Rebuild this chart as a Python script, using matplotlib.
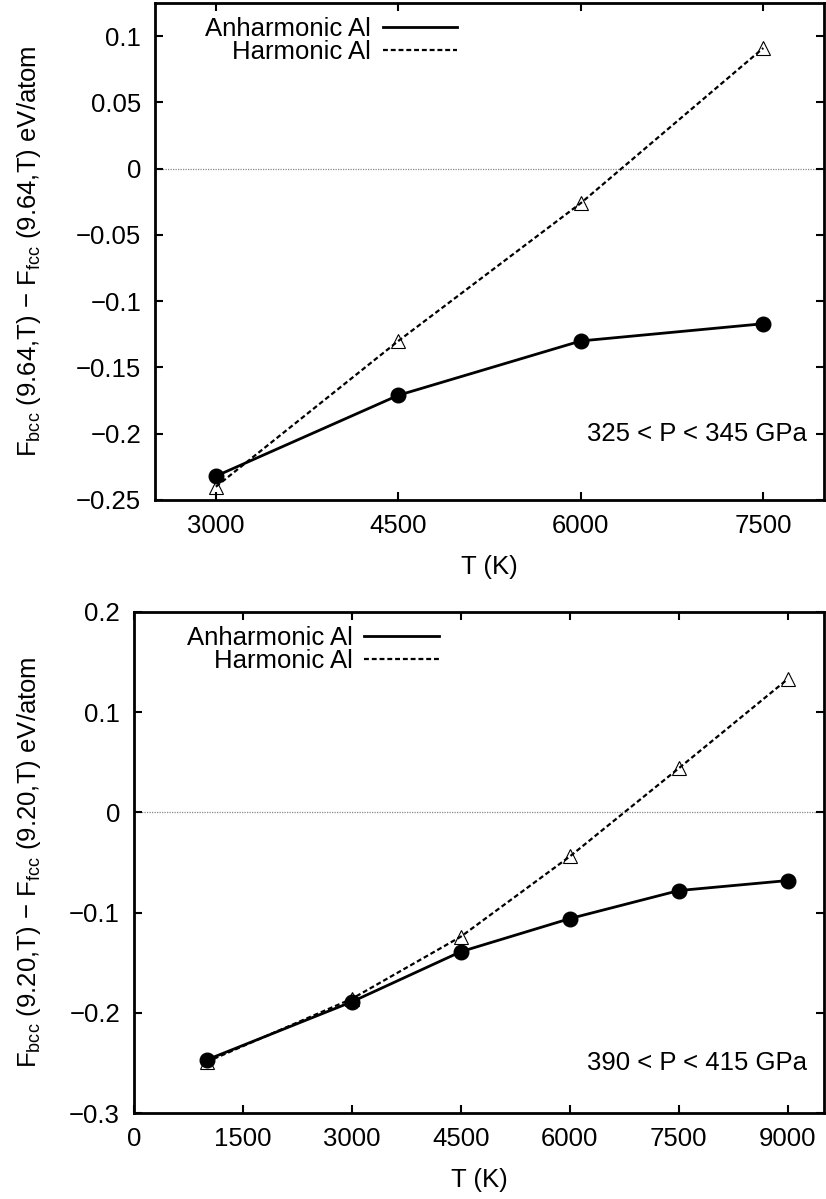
import matplotlib
matplotlib.use("Agg")
import matplotlib.pyplot as plt
from matplotlib.ticker import FuncFormatter
from matplotlib.lines import Line2D

plt.rcParams['font.family'] = ['Liberation Sans', 'DejaVu Sans']
plt.rcParams['mathtext.fontset'] = 'custom'
plt.rcParams['mathtext.rm'] = 'Liberation Sans'
plt.rcParams['mathtext.it'] = 'Liberation Sans'

# ---- data: top panel (V = 9.64) ----
T_top = [3000, 4500, 6000, 7500]
anh_top = [-0.232, -0.171, -0.130, -0.117]
harm_top = [-0.240, -0.130, -0.026, 0.091]
yticks_top = [0.1, 0.05, 0, -0.05, -0.1, -0.15, -0.2, -0.25]
xticks_top = [3000, 4500, 6000, 7500]

# ---- data: bottom panel (V = 9.20) ----
T_bot = [1000, 3000, 4500, 6000, 7500, 9000]
anh_bot = [-0.247, -0.189, -0.139, -0.106, -0.078, -0.068]
harm_bot = [-0.249, -0.186, -0.124, -0.044, 0.044, 0.133]
yticks_bot = [0.2, 0.1, 0, -0.1, -0.2, -0.3]
xticks_bot = [0, 1500, 3000, 4500, 6000, 7500, 9000]

fig = plt.figure(figsize=(8.26, 11.99), dpi=100)
FS = 18.5

def fmt(v, pos):
    s = '%g' % v
    if s == '-0':
        s = '0'
    return s.replace('-', '\u2212')

def panel(ax, T, anh, harm, xlim, ylim, xticks, yticks, vol, ptext, ptext_y,
          leg_x, ylab_x):
    ax.axhline(0, color='#888888', lw=0.9, ls=(0, (1, 1)), zorder=1)
    ax.plot(T, anh, color='black', lw=2.0, marker='o', ms=10.5,
            mfc='black', mec='black', label='Anharmonic Al', zorder=3)
    ax.plot(T, harm, color='black', lw=1.6, ls=(0, (2.2, 1.3)), marker='^', ms=10.5,
            mfc='none', mec='black', mew=0.8, label='Harmonic Al', zorder=2)
    ax.set_xlim(*xlim)
    ax.set_ylim(*ylim)
    ax.set_xticks(xticks)
    ax.set_yticks(yticks)
    ax.yaxis.set_major_formatter(FuncFormatter(fmt))
    ax.tick_params(direction='in', length=6, width=1.5, top=True, right=True,
                   labelsize=FS, pad=10)
    for s in ax.spines.values():
        s.set_linewidth(2.0)
    ax.set_xlabel('T (K)', fontsize=FS, labelpad=12)
    ax.set_ylabel(r'F$_{\rm bcc}$ (%s,T) $-$ F$_{\rm fcc}$ (%s,T) eV/atom' % (vol, vol),
                  fontsize=FS)
    ax.yaxis.set_label_coords(ylab_x, 0.5)
    ax.text(0.975, ptext_y, ptext, transform=ax.transAxes,
            ha='right', va='center', fontsize=FS)
    h1 = Line2D([], [], color='black', lw=2.0)
    h2 = Line2D([], [], color='black', lw=1.6, ls=(0, (2.2, 1.3)))
    ax.legend([h1, h2], ['Anharmonic Al', 'Harmonic Al'], loc='upper right',
              bbox_to_anchor=(leg_x, 1.0), frameon=False, markerfirst=False,
              fontsize=FS, handlelength=2.9, handletextpad=0.45,
              labelspacing=-0.05, borderpad=0.05, alignment='right')

ax1 = fig.add_axes([0.1877, 0.583, 0.810, 0.4145])
panel(ax1, T_top, anh_top, harm_top, (2500, 8000), (-0.25, 0.125),
      xticks_top, yticks_top, '9.64', '325 < P < 345 GPa', (-0.2 + 0.25) / 0.375,
      0.473, -0.167)

ax2 = fig.add_axes([0.1622, 0.0717, 0.8354, 0.4179])
panel(ax2, T_bot, anh_bot, harm_bot, (0, 9500), (-0.3, 0.2),
      xticks_bot, yticks_bot, '9.20', '390 < P < 415 GPa', (-0.25 + 0.3) / 0.5,
      0.462, -0.132)

fig.savefig('out.png', dpi=100)
